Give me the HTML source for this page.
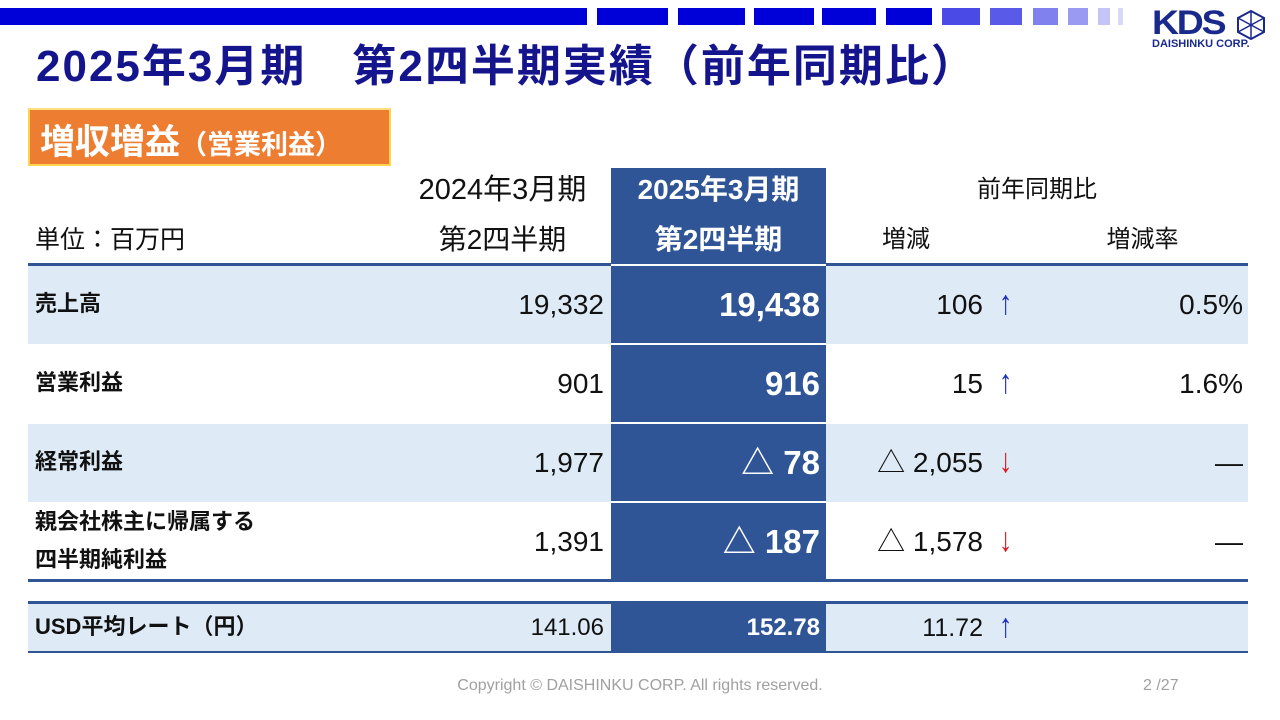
<!DOCTYPE html>
<html><head><meta charset="utf-8"><style>
body{margin:0;width:1280px;height:720px;position:relative;background:#fff;overflow:hidden;font-family:"Liberation Sans","Noto Sans CJK JP",sans-serif;color:#111}
.a{position:absolute;white-space:nowrap}
.sq{position:absolute;top:8px;height:17px}
.r{text-align:right}
.row{position:absolute;left:28px;width:1220px}
.t{position:absolute;font-size:28px;line-height:32px}
.lbl{font-weight:bold;font-size:22px;left:35px}
.hl{position:absolute;background:#2f5597}
.w{color:#fff;font-weight:bold;font-size:33px}
.up,.dn{font-size:34px;transform:scaleX(0.8)}
.up{color:#1b2fc4}.dn{color:#e0191f}
</style></head><body>
<div class="sq" style="left:0;width:587px;background:#0000d8"></div>
<div class="sq" style="left:597px;width:71px;background:#0000d8"></div>
<div class="sq" style="left:678px;width:67px;background:#0000d8"></div>
<div class="sq" style="left:754px;width:60px;background:#0000d8"></div>
<div class="sq" style="left:822px;width:54px;background:#0000d8"></div>
<div class="sq" style="left:886px;width:46px;background:#0000d8"></div>
<div class="sq" style="left:942px;width:38px;background:#4a4ae6"></div>
<div class="sq" style="left:990px;width:32px;background:#5a5ae8"></div>
<div class="sq" style="left:1033px;width:25px;background:#8080ee"></div>
<div class="sq" style="left:1068px;width:20px;background:#9a9af0"></div>
<div class="sq" style="left:1098px;width:12px;background:#c4c4f6"></div>
<div class="sq" style="left:1118px;width:5px;background:#d8d8f8"></div>
<div class="a" style="left:1152px;top:4px;font-size:34px;font-weight:900;color:#1a2a8c;letter-spacing:-2px;transform:scaleX(1.1);transform-origin:left">KDS</div>
<svg class="a" style="left:1236px;top:10px" width="30" height="30" viewBox="0 0 30 30"><polygon points="15,1 28,8 28,22 15,29 2,22 2,8" fill="none" stroke="#1a2a8c" stroke-width="2"/><path d="M15 1L15 29M2 8L28 22M28 8L2 22" stroke="#1a2a8c" stroke-width="1.5"/></svg>
<div class="a" style="left:1152px;top:38px;font-size:11px;font-weight:bold;color:#1a2a8c">DAISHINKU CORP.</div>
<div class="a" style="left:36px;top:30px;font-size:44px;letter-spacing:2px;font-weight:bold;color:#14148c">2025年3月期　第2四半期実績（前年同期比）</div>
<div class="a" style="left:28px;top:108px;width:363px;height:58px;background:#ed7d31;border:2px solid #ffd34d;border-top-color:#ffe080;box-sizing:border-box"></div>
<div class="a" style="left:40px;top:114px;font-size:35px;font-weight:bold;color:#fff">増収増益<span style="font-size:27px">（営業利益）</span></div>

<div class="row" style="top:266px;height:78px;background:#deebf7"></div>
<div class="row" style="top:424px;height:78px;background:#deebf7"></div>
<div class="row" style="top:603px;height:49px;background:#deebf7"></div>
<div class="hl" style="left:611px;top:168px;width:215px;height:412px"></div>
<div class="hl" style="left:611px;top:603px;width:215px;height:49px"></div>
<div class="row" style="top:263px;height:3px;background:#2f5597"></div>
<div class="a" style="left:611px;top:264px;width:215px;height:2px;background:#fff"></div>
<div class="row" style="top:579px;height:3px;background:#2f5597"></div>
<div class="row" style="top:601px;height:3px;background:#2f5597"></div>
<div class="row" style="top:651px;height:2px;background:#2f5597"></div>
<div class="a" style="left:611px;top:343px;width:215px;height:2px;background:#fff"></div>
<div class="a" style="left:611px;top:422px;width:215px;height:2px;background:#fff"></div>
<div class="a" style="left:611px;top:501px;width:215px;height:2px;background:#fff"></div>

<div class="t" style="left:35px;top:224px;font-size:25px">単位：百万円</div>
<div class="t" style="left:395px;width:215px;top:174px;text-align:center;font-size:29px">2024年3月期</div>
<div class="t" style="left:395px;width:215px;top:224px;text-align:center">第2四半期</div>
<div class="t" style="left:611px;width:215px;top:174px;text-align:center;color:#fff;font-weight:bold">2025年3月期</div>
<div class="t" style="left:611px;width:215px;top:224px;text-align:center;color:#fff;font-weight:bold">第2四半期</div>
<div class="t" style="left:826px;width:422px;top:174px;text-align:center;font-size:24px">前年同期比</div>
<div class="t" style="left:826px;width:160px;top:224px;text-align:center;font-size:24px">増減</div>
<div class="t" style="left:1040px;width:205px;top:224px;text-align:center;font-size:24px">増減率</div>

<div class="t lbl" style="top:288px">売上高</div>
<div class="t r" style="right:676px;top:289px">19,332</div>
<div class="t r w" style="right:460px;top:289px">19,438</div>
<div class="t r" style="right:297px;top:289px">106</div>
<div class="t up" style="left:997px;top:287px">↑</div>
<div class="t r" style="right:37px;top:289px">0.5%</div>

<div class="t lbl" style="top:367px">営業利益</div>
<div class="t r" style="right:676px;top:368px">901</div>
<div class="t r w" style="right:460px;top:368px">916</div>
<div class="t r" style="right:297px;top:368px">15</div>
<div class="t up" style="left:997px;top:366px">↑</div>
<div class="t r" style="right:37px;top:368px">1.6%</div>

<div class="t lbl" style="top:446px">経常利益</div>
<div class="t r" style="right:676px;top:447px">1,977</div>
<div class="t r w" style="right:460px;top:447px">△ 78</div>
<div class="t r" style="right:297px;top:447px">△ 2,055</div>
<div class="t dn" style="left:997px;top:445px">↓</div>
<div class="t r" style="right:37px;top:447px">―</div>

<div class="t lbl" style="top:506px">親会社株主に帰属する</div>
<div class="t lbl" style="top:544px">四半期純利益</div>
<div class="t r" style="right:676px;top:526px">1,391</div>
<div class="t r w" style="right:460px;top:526px">△ 187</div>
<div class="t r" style="right:297px;top:526px">△ 1,578</div>
<div class="t dn" style="left:997px;top:524px">↓</div>
<div class="t r" style="right:37px;top:526px">―</div>

<div class="t lbl" style="top:611px">USD平均レート（円）</div>
<div class="t r" style="right:676px;top:612px;font-size:24px">141.06</div>
<div class="t r" style="right:460px;top:612px;font-size:24px;color:#fff;font-weight:bold">152.78</div>
<div class="t r" style="right:297px;top:612px;font-size:25px">11.72</div>
<div class="t up" style="left:997px;top:610px">↑</div>

<div class="a" style="left:0;width:1280px;top:677px;text-align:center;font-size:16px;color:#a0a0a0">Copyright © DAISHINKU CORP. All rights reserved.</div>
<div class="a" style="left:1143px;top:677px;font-size:16px;color:#a0a0a0">2 /27</div>
</body></html>
